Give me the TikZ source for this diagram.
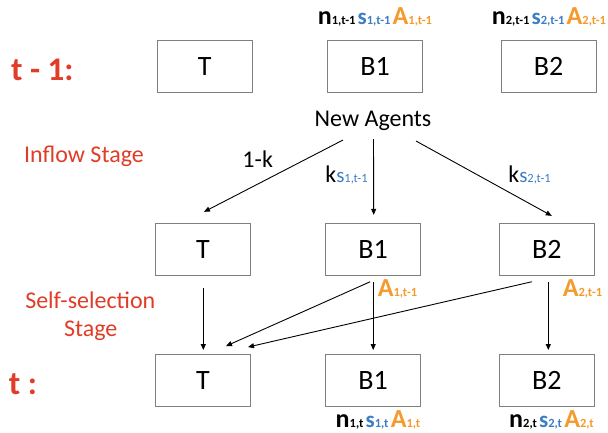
\documentclass[tikz,border=0pt]{standalone}
\usepackage{fontspec}
\setmainfont{Carlito}
\usetikzlibrary{arrows.meta}
\definecolor{tred}{HTML}{E03C28}
\definecolor{sblue}{HTML}{3C7DC4}
\definecolor{aorange}{HTML}{F59A2C}
\definecolor{boxgray}{HTML}{808080}
\newcommand\fsz[1]{\fontsize{#1}{#1}\selectfont}
\newcommand\sbx[1]{{\fsz{12.5}#1}}
\newcommand\nlab[1]{{\fsz{26}n}\sbx{#1}}
\newcommand\slab[1]{\textcolor{sblue}{{\fsz{23}s}\sbx{#1}}}
\newcommand\alab[1]{\textcolor{aorange}{{\fsz{26}A}\sbx{#1}}}
\begin{document}
\begin{tikzpicture}[x=1pt,y=-1pt,
  box/.style={draw=boxgray,line width=0.9pt,minimum width=95pt,minimum height=52pt,inner sep=0pt,font=\fsz{28}},
  arr/.style={draw=black,line width=0.9pt,-{Triangle[length=6pt,width=5pt]}},
  lbl/.style={inner sep=0pt,anchor=base},
  stage/.style={lbl,text=tred,font=\fsz{24}},
  tlab/.style={lbl,text=tred,font=\fsz{33}\bfseries}]
\useasboundingbox (0,0) rectangle (608,433);
% boxes
\node[box] (T1) at (204.7,66.7) {T};
\node[box] (B1a) at (375,66.7) {B1};
\node[box] (B2a) at (548.7,66.7) {B2};
\node[box] (T2) at (203,249.3) {T};
\node[box] (B1b) at (373.2,249.3) {B1};
\node[box] (B2b) at (546.8,249.3) {B2};
\node[box] (T3) at (203,380.5) {T};
\node[box] (B1c) at (373.2,380.5) {B1};
\node[box] (B2c) at (546.8,380.5) {B2};
% new agents
\node[lbl,font=\fsz{24}] (na) at (373,126.7) {New Agents};
% left labels
\node[tlab] (tm1) at (42.3,80.7) {t - 1:};
\node[tlab] (tt) at (23,394) {t :};
\node[stage] (inflow) at (84,162.7) {Inflow Stage};
\node[stage] (self1) at (90.3,308.3) {Self-selection};
\node[stage] (self2) at (90.7,336) {Stage};
% top labels
\node[lbl,font=\bfseries] (top1) at (375,25) {\nlab{1,t-1} \slab{1,t-1} \alab{1,t-1}};
\node[lbl,font=\bfseries] (top2) at (549,25) {\nlab{2,t-1} \slab{2,t-1} \alab{2,t-1}};
% bottom labels
\node[lbl,font=\bfseries] (bot1) at (378,427) {\nlab{1,t} \slab{1,t} \alab{1,t}};
\node[lbl,font=\bfseries] (bot2) at (551.5,427) {\nlab{2,t} \slab{2,t} \alab{2,t}};
% A labels
\node[lbl,font=\bfseries] (a1) at (397.5,296) {\alab{1,t-1}};
\node[lbl,font=\bfseries] (a2) at (582.5,296) {\alab{2,t-1}};
% inflow arrows
\draw[arr] ([xshift=-30pt,yshift=-9pt]na.south) -- ([xshift=1pt,yshift=11pt]T2.north);
\draw[arr] ([xshift=0.5pt,yshift=-8pt]na.south) -- ([xshift=0.5pt,yshift=8pt]B1b.north);
\draw[arr] ([xshift=43pt,yshift=-10pt]na.south) -- ([xshift=5pt,yshift=7pt]B2b.north);
% inflow labels
\node[lbl,font=\fsz{24}] (l1k) at (257.7,167.3) {1-k};
\node[lbl,font=\fsz{24}] (lk1) at (346.5,182.7) {k\textcolor{sblue}{{\fsz{21}s}\sbx{1,t-1}}};
\node[lbl,font=\fsz{24}] (lk2) at (529.5,182.7) {k\textcolor{sblue}{{\fsz{21}s}\sbx{2,t-1}}};
% self-selection arrows
\draw[arr] ([xshift=0.3pt,yshift=-12pt]T2.south) -- ([xshift=0.3pt,yshift=4pt]T3.north);
\draw[arr] ([yshift=-6pt]B1b.south) -- ([yshift=4pt]B1c.north);
\draw[arr] ([xshift=1.5pt,yshift=-6pt]B2b.south) -- ([xshift=1.5pt,yshift=4pt]B2c.north);
\draw[arr] ([xshift=-3pt,yshift=-6pt]B1b.south) -- ([xshift=23pt,yshift=8pt]T3.north);
\draw[arr] ([xshift=-15pt,yshift=-6pt]B2b.south) -- ([xshift=45pt,yshift=7pt]T3.north);
\end{tikzpicture}
\end{document}
